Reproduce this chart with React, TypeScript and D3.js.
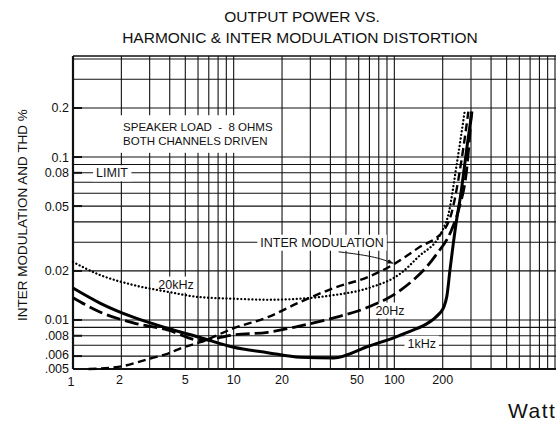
import React, { useLayoutEffect, useRef, useState } from "react";
import * as d3 from "d3";

const width = 556;
const height = 427;
const font = "'Liberation Sans', Arial, Helvetica, sans-serif";

const titleLines = ["OUTPUT POWER VS.", "HARMONIC & INTER MODULATION DISTORTION"];
const yAxisTitle = "INTER MODULATION AND THD %";
const xAxisTitle = "Watts";

const xTickValues = [1, 2, 5, 10, 20, 50, 100, 200];
const yTickValues = [0.2, 0.1, 0.08, 0.05, 0.02, 0.01, 0.008, 0.006, 0.005];
const yTickLabels = ["0.2", "0.1", "0.08", "0.05", "0.02", "0.01", ".008", ".006", ".005"];

// 1kHz THD (solid)
const watts1k = [1, 1.47, 2.37, 3.87, 6.2, 10, 16.3, 26, 42, 69, 110, 195, 212, 222, 233, 244, 256, 287, 304];
const thd1k = [0.0157, 0.0127, 0.0104, 0.0089, 0.0078, 0.0068, 0.0063, 0.0059, 0.00585, 0.0069, 0.0081, 0.0112, 0.0139, 0.0203, 0.0296, 0.0411, 0.0545, 0.127, 0.19];

// 20Hz THD (long dash)
const watts20 = [1, 1.47, 2.37, 3.87, 6.2, 10, 16.3, 26, 42, 69, 110, 178, 227, 251, 286, 302];
const thd20 = [0.0137, 0.0112, 0.0096, 0.0087, 0.0075, 0.0081, 0.0084, 0.0092, 0.0103, 0.012, 0.0153, 0.0244, 0.0357, 0.0473, 0.096, 0.19];

// 20kHz THD (dotted)
const watts20k = [1, 1.47, 2.37, 3.87, 6.2, 10, 16.3, 26, 42, 69, 110, 141, 197, 218, 244, 274];
const thd20k = [0.0227, 0.0189, 0.0164, 0.0149, 0.0138, 0.0135, 0.0133, 0.0135, 0.0142, 0.0157, 0.0194, 0.0244, 0.0347, 0.0453, 0.089, 0.19];

// inter modulation (short dash)
const wattsIm = [1.25, 1.91, 3.03, 3.87, 4.87, 6.2, 10, 16.3, 26, 42, 69, 100, 141, 204, 227, 262, 289];
const distIm = [0.005, 0.00515, 0.0058, 0.0062, 0.0068, 0.0073, 0.0089, 0.0104, 0.0129, 0.0157, 0.0184, 0.0221, 0.0277, 0.0357, 0.0453, 0.096, 0.19];

const series = [
  { key: "1k", watts: watts1k, values: thd1k, dash: "none", sw: 3 },
  { key: "20", watts: watts20, values: thd20, dash: "14 5", sw: 2.8 },
  { key: "20k", watts: watts20k, values: thd20k, dash: "0.1 3.6", sw: 2.3 },
  { key: "im", watts: wattsIm, values: distIm, dash: "8 4.5", sw: 2.4 },
];

// annotations, placed in data coordinates
const notes = [
  { lines: ["SPEAKER LOAD  -  8 OHMS", "BOTH CHANNELS DRIVEN"], w: 2.05, v: 0.144, anchor: "start", size: 11.5, padX: 8, padY: 6 },
  { lines: ["LIMIT"], w: 1.75, v: 0.08, anchor: "middle", size: 12.5, padX: 3, padY: 1 },
  { lines: ["20kHz"], w: 4.38, v: 0.0166, anchor: "middle", size: 12.5, padX: 2, padY: 1 },
  { lines: ["INTER MODULATION"], w: 35.5, v: 0.03, anchor: "middle", size: 12.5, padX: 3, padY: 1 },
  { lines: ["20Hz"], w: 94, v: 0.0115, anchor: "middle", size: 12.5, padX: 2, padY: 1 },
  { lines: ["1kHz"], w: 148, v: 0.0072, anchor: "middle", size: 12.5, padX: 3, padY: 1 },
];
const leaderW = [45, 75, 98];
const leaderV = [0.0262, 0.0246, 0.0223];

const x = d3.scaleLog().domain([1, 1000]).range([73, 555]);
const y = d3.scaleLog().domain([0.005, 0.417]).range([369, 56]);

const xGrid: number[] = [];
[1, 10, 100].forEach((d) => { for (let i = 1; i < 10; i++) xGrid.push(d * i); });
xGrid.push(1000, 1100);
const yGrid: number[] = [];
[0.001, 0.01, 0.1].forEach((d) => { for (let i = 1; i < 10; i++) { const v = +(d * i).toPrecision(3); if (v >= 0.005 && v <= 0.4) yGrid.push(v); } });

const Note = ({ n }: { n: any }) => {
  const ref = useRef<SVGGElement>(null);
  const [box, setBox] = useState<any>(null);
  useLayoutEffect(() => {
    if (ref.current) {
      const b = ref.current.getBBox();
      setBox({ x: b.x, y: b.y, w: b.width, h: b.height });
    }
  }, []);
  const px = x(n.w);
  const py = y(n.v);
  const lh = n.size * 1.18;
  return (
    <g>
      {box && <rect x={box.x - n.padX} y={box.y - n.padY} width={box.w + n.padX * 2} height={box.h + n.padY * 2} fill="#fff" />}
      <g ref={ref}>
        {n.lines.map((t: string, i: number) => (
          <text key={i} x={px} y={py + i * lh} dy={n.lines.length > 1 ? 0 : "0.36em"} textAnchor={n.anchor}
            fontSize={n.size} fontFamily={font} fill="#111" style={{ whiteSpace: "pre" }}>{t}</text>
        ))}
      </g>
    </g>
  );
};

export default function App() {
  const x0 = x(1);
  const y0 = y(0.005);
  const yTop = y(0.417);
  const line = d3.line<[number, number]>()
    .x((d) => x(d[0]))
    .y((d) => y(d[1]))
    .curve(d3.curveMonotoneX);
  const leader = d3.line<[number, number]>().x((d) => x(d[0])).y((d) => y(d[1])).curve(d3.curveBasis);

  return (
    <svg width={width} height={height} style={{ position: "absolute", left: 0, top: 0, background: "#fff" }}>
      <defs>
        <marker id="arr" viewBox="0 0 10 10" refX="9" refY="5" markerWidth="6" markerHeight="6" orient="auto">
          <path d="M0,1 L10,5 L0,9 z" fill="#111" />
        </marker>
      </defs>
      <rect width={width} height={height} fill="#fff" />

      {/* title */}
      <text x={302} y={22} textAnchor="middle" fontSize={15.5} fontFamily={font} fill="#111">{titleLines[0]}</text>
      <text x={300} y={43} textAnchor="middle" fontSize={15.5} fontFamily={font} fill="#111">{titleLines[1]}</text>

      {/* grid */}
      {yGrid.map((v) => (
        <line key={"hy" + v} x1={x0} x2={width + 5} y1={y(v)} y2={y(v)} stroke="#111" strokeWidth={1.1} />
      ))}
      {xGrid.map((w) => (
        <line key={"vx" + w} x1={x(w)} x2={x(w)} y1={yTop} y2={y0} stroke="#111" strokeWidth={1.1} />
      ))}
      <line x1={x0} x2={width + 5} y1={yTop} y2={yTop} stroke="#111" strokeWidth={1.6} />
      <line x1={x0} x2={width + 5} y1={y0} y2={y0} stroke="#111" strokeWidth={2.2} />
      <line x1={x0} x2={x0} y1={yTop} y2={y0} stroke="#111" strokeWidth={2.2} />

      {/* y ticks */}
      {yTickValues.map((v, i) => (
        <g key={"yt" + v}>
          <line x1={x0} x2={x0 + 9} y1={y(v)} y2={y(v)} stroke="#111" strokeWidth={2} />
          <text x={69} y={y(v) + (v === 0.005 ? -0.5 : v === 0.006 ? -2 : 0)} dy="0.36em" textAnchor="end"
            fontSize={12.5} fontFamily={font} fill="#111">{yTickLabels[i]}</text>
        </g>
      ))}
      {/* x ticks (the printed "50" sits a little right of its line) */}
      {xTickValues.map((w) => (
        <text key={"xt" + w} x={x(w) + (w === 1 ? -2 : w === 50 ? 11 : w === 2 ? -2 : 0)} y={w === 1 ? 386 : 384} textAnchor="middle"
          fontSize={12.5} fontFamily={font} fill="#111">{w}</text>
      ))}

      {/* axis titles */}
      <text transform="translate(27,215) rotate(-90)" textAnchor="middle" fontSize={13.5} fontFamily={font} fill="#111">{yAxisTitle}</text>
      <text x={508} y={418} fontSize={21} letterSpacing={1.5} fontFamily={font} fill="#111">{xAxisTitle}</text>

      {/* annotations */}
      {notes.map((n, i) => <Note key={i} n={n} />)}
      <path d={leader(leaderW.map((w, i) => [w, leaderV[i]]) as [number, number][]) || ""} fill="none" stroke="#111" strokeWidth={1} markerEnd="url(#arr)" />

      {/* curves */}
      {series.map((s) => (
        <path key={s.key} d={line(s.watts.map((w, i) => [w, s.values[i]]) as [number, number][]) || ""}
          fill="none" stroke="#000" strokeWidth={s.sw} strokeDasharray={s.dash}
          strokeLinecap={s.key === "20k" ? "round" : "butt"} />
      ))}
    </svg>
  );
}
